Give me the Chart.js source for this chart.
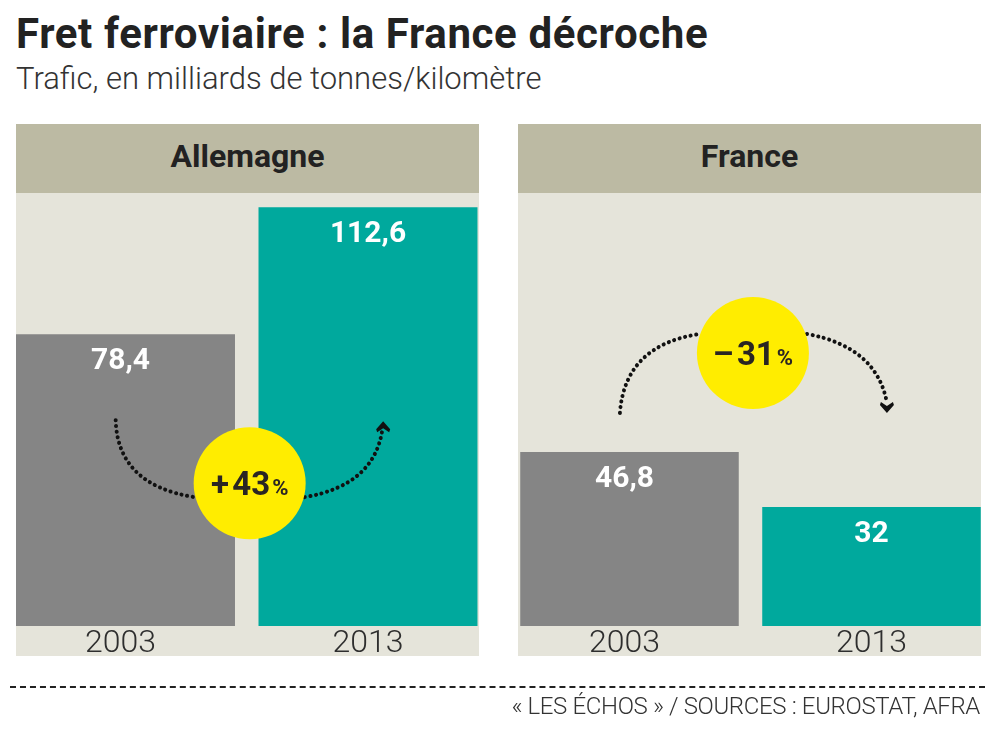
<!DOCTYPE html>
<html lang="fr"><head><meta charset="utf-8">
<script src="https://cdn.jsdelivr.net/npm/chart.js@4"></script>
<style>
html,body{margin:0;padding:0;background:#fff;width:1000px;height:731px;overflow:hidden}
div,canvas{position:absolute}
#title{left:16px;top:9px;font:700 42px Roboto,sans-serif;color:#222;white-space:nowrap;letter-spacing:.63px}
#sub{left:16px;top:60px;font:300 31px Roboto,sans-serif;color:#333;white-space:nowrap}
.panel{top:124px;width:463px;height:532px;background:#e5e4da}
.head{left:0;top:0;width:100%;height:69px;background:#bcbaa3;color:#222;font:700 32px Roboto,sans-serif;line-height:64px;text-align:center}
#rule{left:10px;top:686px;width:975px;height:0;border-top:2px dashed #222}
#src{right:20px;top:692px;font:300 24px Roboto,sans-serif;color:#333;white-space:nowrap;letter-spacing:-.35px}
</style></head><body>
<div id="title">Fret ferroviaire : la France décroche</div>
<div id="sub">Trafic, en milliards de tonnes/kilomètre</div>
<div class="panel" style="left:16px"><div class="head">Allemagne</div></div>
<div class="panel" style="left:518px"><div class="head">France</div></div>
<canvas id="c1" width="500" height="731" style="left:0;top:0;width:500px;height:731px"></canvas>
<canvas id="c2" width="500" height="731" style="left:500px;top:0;width:500px;height:731px"></canvas>
<div id="rule"></div>
<div id="src">« LES ÉCHOS » / SOURCES : EUROSTAT, AFRA</div>
<script>
const years = ["2003", "2013"];
const allemagne = [78.4, 112.6];
const france = [46.8, 32];
const allemagneLabels = ["78,4", "112,6"];
const franceLabels = ["46,8", "32"];
const barColors = ["#858585", "#00a99d"];
const axisMax = 116.4;

const quad = (ctx, a, c, b) => { ctx.beginPath(); ctx.moveTo(a[0], a[1]); ctx.quadraticCurveTo(c[0], c[1], b[0], b[1]); ctx.stroke(); };

const decor = {
  id: 'decor',
  afterLayout(chart) {
    const o = chart.options.plugins.decor, s = chart.scales.x;
    s.getLabelItems().forEach((it, i) => { it.options.translation[0] += o.tickShift[i]; });
  },
  afterDatasetsDraw(chart) {
    const o = chart.options.plugins.decor, ctx = chart.ctx;
    const x = chart.scales.x, y = chart.scales.y;
    ctx.save();
    // value labels
    ctx.fillStyle = '#fff'; ctx.font = '700 30px Roboto, sans-serif';
    ctx.textAlign = 'center'; ctx.textBaseline = 'middle';
    chart.data.datasets[0].data.forEach((v, i) => {
      ctx.fillText(o.labels[i], x.getPixelForValue(i) + o.tickShift[i], y.getPixelForValue(v) + 27.5);
    });
    // bubble position from the scales
    const cx = x.getPixelForValue(o.bubbleAt[0]), cy = y.getPixelForValue(o.bubbleAt[1]);
    // dotted arcs
    ctx.strokeStyle = '#111'; ctx.lineWidth = 4; ctx.lineCap = 'round'; ctx.setLineDash([0.1, 5.6]);
    o.arcs.forEach(a => {
      const p = a.map(q => [cx + q[0], cy + q[1]]);
      quad(ctx, p[0], p[1], p[2]);
    });
    ctx.setLineDash([]);
    // arrow head
    const t = [cx + o.head[0], cy + o.head[1]], d = o.head[2];
    ctx.fillStyle = '#111'; ctx.beginPath();
    ctx.moveTo(t[0], t[1]); ctx.lineTo(t[0] + 7, t[1] - d * 8); ctx.lineTo(t[0] + 6, t[1] - d * 11); ctx.lineTo(t[0], t[1] - d * 7); ctx.lineTo(t[0] - 6, t[1] - d * 11); ctx.lineTo(t[0] - 7, t[1] - d * 8);
    ctx.closePath(); ctx.fill();
    // bubble
    ctx.fillStyle = '#ffed00'; ctx.beginPath(); ctx.arc(cx, cy, 56, 0, Math.PI * 2); ctx.fill();
    // bubble text
    ctx.fillStyle = '#2a2523'; ctx.textAlign = 'left'; ctx.textBaseline = 'alphabetic';
    ctx.font = '700 33px Roboto, sans-serif';
    const w1 = ctx.measureText(o.pct).width;
    ctx.font = '700 22px Roboto, sans-serif';
    const w2 = ctx.measureText('%').width;
    const left = cx - (w1 + w2 + 2) / 2;
    ctx.font = '700 33px Roboto, sans-serif'; ctx.fillText(o.pct, left, cy + 12);
    ctx.font = '700 22px Roboto, sans-serif'; ctx.fillText('%', left + w1 + 2, cy + 12);
    ctx.restore();
  }
};

function make(id, values, labels, pad, deco) {
  return new Chart(document.getElementById(id), {
    type: 'bar',
    data: { labels: years, datasets: [{ data: values, backgroundColor: barColors, borderWidth: 0,
      barPercentage: 1, categoryPercentage: 0.903 }] },
    options: {
      responsive: false, animation: false, events: [],
      layout: { padding: { top: 193, bottom: 75, left: pad[0], right: pad[1] } },
      plugins: { legend: { display: false }, tooltip: { enabled: false }, decor: Object.assign({ labels }, deco) },
      scales: {
        x: { grid: { display: false, drawTicks: false }, border: { display: false },
          afterFit(s) { s.height = 30; },
          ticks: { maxRotation: 0, padding: -1, color: '#2e2e2e', font: { family: 'Roboto', weight: '300', size: 32 } } },
        y: { display: false, min: 0, max: axisMax }
      }
    },
    plugins: [decor]
  });
}

make('c1', allemagne, allemagneLabels, [4.25, 10.75], {
  tickShift: [-5, 0], bubbleAt: [0.512, 38.4], pct: '+\u200a43',
  arcs: [[[-134, -63], [-132, 2], [-55, 14]], [[55, 14], [126, 2], [133, -56]]],
  head: [133.5, -62, -1]
});
make('c2', france, franceLabels, [8.5, 7.5], {
  tickShift: [-5, 0], bubbleAt: [0.51, 73.4], pct: '–\u200a31',
  arcs: [[[-133, 60], [-128, -8], [-53, -19]], [[54, -19], [124, -6], [134, 50]]],
  head: [134, 60, 1]
});
</script>
</body></html>
